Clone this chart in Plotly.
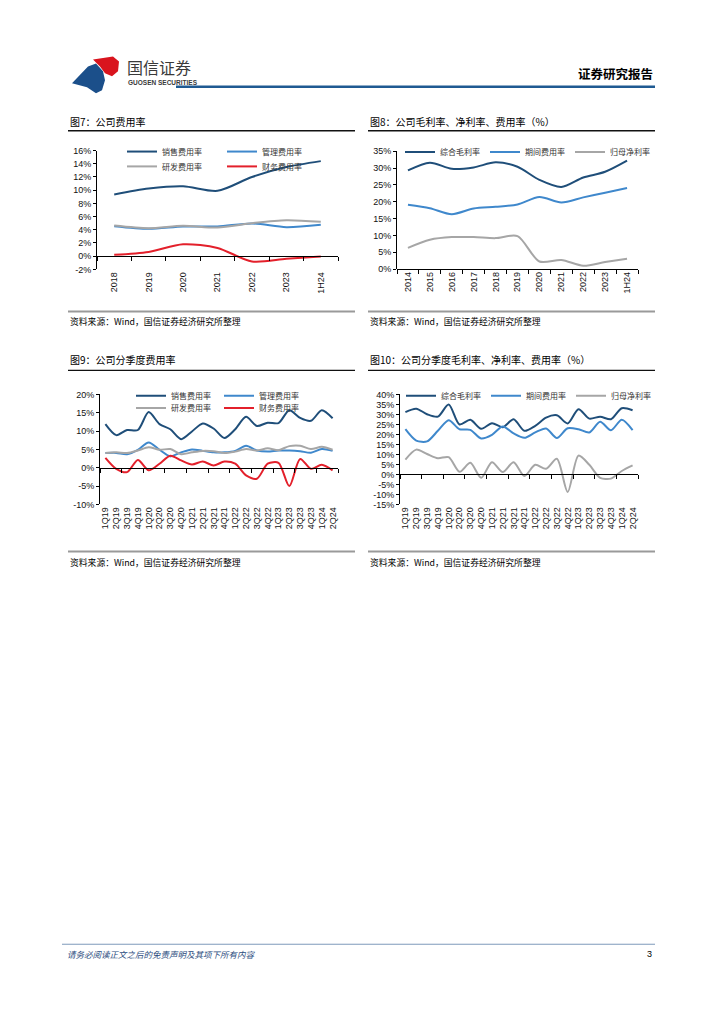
import plotly.graph_objects as go

W, H = 724, 1024

# ---------------- data ----------------
cat7 = ['2018', '2019', '2020', '2021', '2022', '2023', '1H24']
sales7 = [9.35, 10.25, 10.6, 9.9, 12.0, 13.5, 14.4]
admin7 = [4.55, 4.15, 4.5, 4.5, 4.95, 4.4, 4.75]
rd7 = [4.65, 4.25, 4.6, 4.35, 5.0, 5.45, 5.2]
fin7 = [0.2, 0.65, 1.8, 1.25, -0.8, -0.4, -0.05]

cat8 = ['2014', '2015', '2016', '2017', '2018', '2019', '2020', '2021', '2022', '2023', '1H24']
gross8 = [29.3, 31.6, 29.8, 30.2, 31.7, 30.4, 26.5, 24.4, 27.2, 28.9, 32.2]
period8 = [19.1, 18.1, 16.3, 18.0, 18.5, 19.2, 21.4, 19.8, 21.3, 22.7, 24.1]
net8 = [6.3, 8.7, 9.5, 9.5, 9.2, 9.8, 2.25, 2.7, 1.0, 2.1, 3.1]

quarters = ['1Q19', '2Q19', '3Q19', '4Q19', '1Q20', '2Q20', '3Q20', '4Q20',
            '1Q21', '2Q21', '3Q21', '4Q21', '1Q22', '2Q22', '3Q22', '4Q22',
            '1Q23', '2Q23', '3Q23', '4Q23', '1Q24', '2Q24']
sales9 = [11.9, 8.9, 10.3, 10.3, 15.2, 11.9, 10.5, 7.8, 9.9, 12.1, 10.7, 8.1,
          10.5, 13.9, 11.4, 12.3, 12.2, 15.7, 13.6, 12.8, 15.7, 13.5]
admin9 = [4.0, 4.05, 3.7, 4.9, 6.9, 4.9, 3.1, 4.2, 5.0, 4.6, 4.2, 4.2,
          4.6, 6.0, 4.7, 4.4, 4.7, 4.7, 4.5, 4.1, 5.1, 4.6]
rd9 = [4.0, 4.2, 4.0, 4.7, 5.6, 4.9, 5.1, 3.7, 4.2, 4.6, 4.5, 4.0,
       4.4, 5.1, 4.7, 5.3, 4.8, 5.9, 6.0, 5.1, 5.7, 4.9]
fin9 = [2.7, -0.3, -1.2, 2.1, -0.7, 1.1, 3.3, 2.0, 0.9, 1.7, 0.6, 1.7,
        1.1, -2.1, -3.0, 1.1, 1.35, -5.0, 2.4, -0.3, 0.8, -0.7]

gross10 = [31.2, 32.9, 30.1, 28.9, 35.0, 25.0, 27.3, 22.8, 25.6, 23.6, 27.6, 21.8,
           24.3, 28.4, 29.6, 25.5, 32.6, 27.9, 28.9, 27.6, 33.1, 32.1]
period10 = [22.6, 16.9, 16.5, 21.8, 27.1, 22.6, 22.3, 18.0, 19.8, 24.0, 20.5, 18.3,
            21.0, 23.0, 18.2, 23.1, 22.6, 21.0, 26.3, 22.1, 27.3, 22.1]
net10 = [7.4, 12.4, 10.2, 8.1, 8.6, 1.3, 5.8, -1.7, 6.1, 1.2, 6.1, -0.8,
         4.8, 2.8, 7.8, -8.8, 9.4, 4.8, -1.7, -2.1, 1.7, 4.5]

DARK, MID, GRAY, RED = '#1F4E79', '#3F88CC', '#A6A6A6', '#E3202B'
CJK = 'Noto Sans CJK SC'
LAT = 'Liberation Sans'


def fx(p):
    return p / W


def fy(p):
    return 1 - p / H


charts = [
    dict(cats=cat7, x0=97, x1=338, ytop=147, ybot=267, yr=(-2, 16), dt=2,
         series=[('销售费用率', sales7, DARK, 'legend'), ('管理费用率', admin7, MID, 'legend'),
                 ('研发费用率', rd7, GRAY, 'legend2'), ('财务费用率', fin7, RED, 'legend2')],
         legends=[('legend', 122, 148, 55), ('legend2', 122, 163, 55)]),
    dict(cats=cat8, x0=397, x1=638, ytop=147.7, ybot=266.7, yr=(0, 35), dt=5,
         series=[('综合毛利率', gross8, DARK, 'legend3'), ('期间费用率', period8, MID, 'legend3'),
                 ('归母净利率', net8, GRAY, 'legend3')],
         legends=[('legend3', 400, 148.5, None)]),
    dict(cats=quarters, x0=100, x1=338, ytop=393.3, ybot=504.3, yr=(-10, 20), dt=5,
         series=[('销售费用率', sales9, DARK, 'legend4'), ('管理费用率', admin9, MID, 'legend4'),
                 ('研发费用率', rd9, GRAY, 'legend5'), ('财务费用率', fin9, RED, 'legend5')],
         legends=[('legend4', 131, 394.5, 43), ('legend5', 131, 407, 43)]),
    dict(cats=quarters, x0=400, x1=638, ytop=393.3, ybot=504.3, yr=(-15, 40), dt=5,
         series=[('综合毛利率', gross10, DARK, 'legend6'), ('期间费用率', period10, MID, 'legend6'),
                 ('归母净利率', net10, GRAY, 'legend6')],
         legends=[('legend6', 401, 394.5, None)]),
]

fig = go.Figure()
layout = {}

for i, c in enumerate(charts):
    xm = 2 * i + 1
    xo = 2 * i + 2
    yi = i + 1
    xm_ref = 'x' if xm == 1 else f'x{xm}'
    xo_ref = f'x{xo}'
    y_ref = 'y' if yi == 1 else f'y{yi}'
    n = len(c['cats'])
    ymin, ymax = c['yr']
    dom_y = [fy(c['ybot']), fy(c['ytop'])]
    dom_x = [fx(c['x0']), fx(c['x1'])]
    for name, vals, col, lg in c['series']:
        fig.add_trace(go.Scatter(x=c['cats'], y=vals, name=name, mode='lines',
                                 line=dict(color=col, width=2, shape='spline', smoothing=0.8),
                                 xaxis=xm_ref, yaxis=y_ref, legend=lg, hoverinfo='skip'))
    # invisible trace carrying the zero-line axis
    fig.add_trace(go.Scatter(x=c['cats'], y=[None] * n, mode='lines', showlegend=False,
                             xaxis=xo_ref, yaxis=y_ref, hoverinfo='skip'))
    zero_pos = dom_y[0] + (0 - ymin) / (ymax - ymin) * (dom_y[1] - dom_y[0])
    layout['xaxis' if xm == 1 else f'xaxis{xm}'] = dict(
        domain=dom_x, anchor=y_ref, type='category', range=[-0.5, n - 0.5],
        tickmode='array', tickvals=c['cats'], ticktext=c['cats'],
        tickangle=-90, ticks='', showline=False, showgrid=False, zeroline=False,
        tickfont=dict(family=LAT, size=9, color='#111'), fixedrange=True)
    layout[f'xaxis{xo}'] = dict(
        overlaying=xm_ref, anchor='free', position=zero_pos, type='category',
        range=[-0.5, n - 0.5], tickson='boundaries', ticks='outside', ticklen=4,
        tickcolor='#000', tickwidth=1, showline=True, linecolor='#000', linewidth=1,
        showticklabels=False, showgrid=False, zeroline=False, fixedrange=True)
    tv = list(range(ymin, ymax + 1, c['dt']))
    layout['yaxis' if yi == 1 else f'yaxis{yi}'] = dict(
        domain=dom_y, anchor=xm_ref, range=[ymin, ymax], tickvals=tv,
        ticktext=[f'{v}%' for v in tv], ticks='outside', ticklen=3, tickcolor='#000',
        showline=True, linecolor='#000', linewidth=1, showgrid=False, zeroline=False,
        tickfont=dict(family=LAT, size=9, color='#111'), fixedrange=True)
    for lname, lx, ly, ew in c['legends']:
        d = dict(x=fx(lx), y=fy(ly), xanchor='left', yanchor='middle', orientation='h',
                 bgcolor='rgba(0,0,0,0)', font=dict(family=CJK, size=8, color='#333'),
                 itemwidth=30, tracegroupgap=0, traceorder='normal')
        if ew:
            d['entrywidth'] = ew
            d['entrywidthmode'] = 'pixels'
        layout[lname] = d

fig.update_layout(**layout)

# ---------------- page decorations ----------------
shapes = []
annots = []


def hline(x0, x1, y, color, width):
    shapes.append(dict(type='line', xref='paper', yref='paper', x0=fx(x0), x1=fx(x1),
                       y0=fy(y), y1=fy(y), line=dict(color=color, width=width)))


def text(x, y, s, size, color='#000', anchor='left', family=CJK, bold=False, italic=False):
    if bold:
        s = f'<b>{s}</b>'
    if italic:
        s = f'<i>{s}</i>'
    annots.append(dict(x=fx(x), y=fy(y), xref='paper', yref='paper', text=s, showarrow=False,
                       xanchor=anchor, yanchor='middle',
                       font=dict(family=family, size=size, color=color)))


# header
hline(176, 655, 82.5, '#1F5A92', 2.5)
text(655, 69, '证券研究报告', 12.5, '#000', 'right', bold=True)
text(125, 63, '国信证券', 16, '#3a3a3a')
text(126, 78, '<b>GUOSEN SECURITIES</b>', 6.5, '#3a3a3a', family=LAT)
shapes.append(dict(type='path', xref='paper', yref='paper',
                   path='M {} {} L {} {} L {} {} L {} {} L {} {} L {} {} L {} {} Z'.format(
                       fx(93), fy(55), fx(113), fy(52), fx(119), fy(57), fx(118), fy(67),
                       fx(112), fy(72), fx(105), fy(69), fx(100), fy(62)),
                   fillcolor='#D9141E', line=dict(width=0)))
shapes.append(dict(type='path', xref='paper', yref='paper',
                   path='M {} {} L {} {} L {} {} L {} {} L {} {} L {} {} L {} {} L {} {} Z'.format(
                       fx(72), fy(79), fx(88), fy(62), fx(96), fy(59), fx(103), fy(67),
                       fx(105), fy(76), fx(102), fy(86), fx(96), fy(89), fx(87), fy(83)),
                   fillcolor='#1B4F8A', line=dict(width=0)))

# chart titles, rules and sources
titles = [('图7：公司费用率', 68, 117.5, 127, 309.5, 320),
          ('图8：公司毛利率、净利率、费用率（%）', 368, 117.5, 127, 309.5, 320),
          ('图9：公司分季度费用率', 68, 357.5, 369, 552, 563),
          ('图10：公司分季度毛利率、净利率、费用率（%）', 368, 357.5, 369, 552, 563)]
for t, x, ty, ly, sy, st in titles:
    text(x, ty, t, 10, '#000')
    hline(x, x + 287, ly, '#111', 1.3)
    hline(x, x + 287, sy, '#9a9a9a', 2)
    text(x, st, '资料来源：Wind，国信证券经济研究所整理', 8.8, '#000')

# footer
hline(62, 655, 948.5, '#5A7FA8', 0.8)
text(65, 958, '请务必阅读正文之后的免责声明及其项下所有内容', 8.5, '#2B4C7E', italic=True)
text(654, 958, '3', 9, '#000', 'right', family=LAT)

fig.update_layout(width=W, height=H, margin=dict(l=0, r=0, t=0, b=0),
                  paper_bgcolor='white', plot_bgcolor='rgba(0,0,0,0)',
                  shapes=shapes, annotations=annots, showlegend=True)

fig.write_html('out.html', config={'displayModeBar': False},
               post_script="document.body.style.margin='0';document.body.style.overflow='hidden';")
